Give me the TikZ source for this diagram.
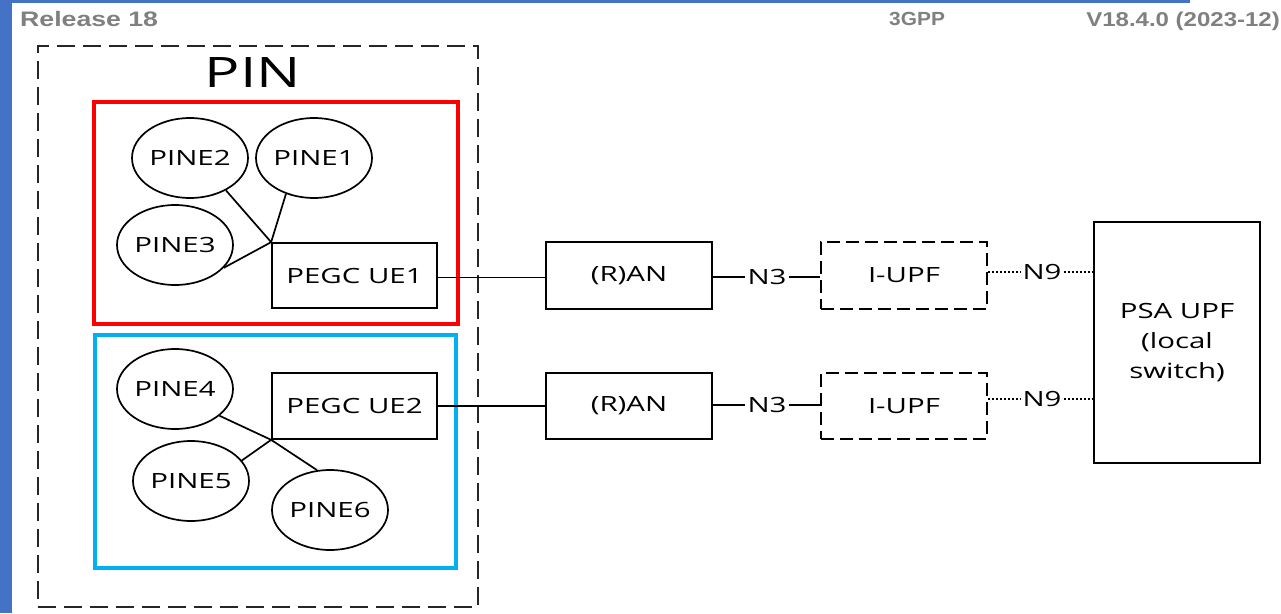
\documentclass[tikz,border=0pt]{standalone}
\usepackage{fontspec}
\usepackage{graphicx}
\setmainfont{Open Sans}[FakeStretch=1.4]
\newfontfamily\hdr{Liberation Sans}
\usetikzlibrary{shapes.geometric}
\definecolor{stripblue}{HTML}{4472C4}
\definecolor{boxblue}{HTML}{00B0F0}
\definecolor{hdrgrey}{HTML}{808080}
\tikzset{
  lbl/.style={font=\fontsize{21}{25}\selectfont, inner sep=0pt},
  hdrtxt/.style={text=hdrgrey, inner sep=0pt},
  pine/.style={ellipse, draw=black, line width=1.7pt, minimum width=116pt, minimum height=80pt, inner sep=0pt, font=\fontsize{21}{25}\selectfont},
  nfbox/.style={rectangle, draw=black, line width=1.7pt, minimum width=166pt, minimum height=66pt, inner sep=0pt, font=\fontsize{21}{25}\selectfont},
  dbox/.style={nfbox, dash pattern=on 13pt off 6pt},
  pinbox/.style={rectangle, draw=black!85, line width=1.8pt, dash pattern=on 18pt off 8pt, inner sep=0pt},
  grpbox/.style={rectangle, line width=4pt, inner sep=0pt},
  conn/.style={draw=black, line width=1.7pt},
  dotconn/.style={draw=black, line width=1.5pt, dash pattern=on 2pt off 2pt},
  tag/.style={font=\fontsize{21}{25}\selectfont, inner sep=2pt}
}
\begin{document}
\begin{tikzpicture}[x=1pt,y=-1pt]
\useasboundingbox (0,0) rectangle (1281,613);
\fill[white] (0,0) rectangle (1281,613);
\fill[stripblue] (0,0) rectangle (12,613);
\fill[stripblue] (12,0) rectangle (1190,3);
% header
\node[hdrtxt, anchor=base west] (rel) at (20,26) {\hdr\bfseries\fontsize{21}{25}\selectfont\scalebox{1.27}[1]{Release 18}};
\node[hdrtxt, anchor=base west] (gpp) at (889,25) {\hdr\bfseries\fontsize{19}{23}\selectfont\scalebox{1.1}[1]{3GPP}};
\node[hdrtxt, anchor=base east] (ver) at (1280,26) {\hdr\bfseries\fontsize{20}{24}\selectfont\scalebox{1.2}[1]{V18.4.0 (2023-12)}};
% PIN container
\node[pinbox, minimum width=440pt, minimum height=561pt] (pin) at (258,326.5) {};
\node[inner sep=0pt, font=\fontsize{42}{48}\selectfont] (pinlbl) at (253,73) {PIN};
% group boxes
\node[grpbox, draw=red, minimum width=364pt, minimum height=222pt] (red) at (276,213) {};
\node[grpbox, draw=boxblue, minimum width=361pt, minimum height=233pt] (blue) at (275.5,451.5) {};
% upper group
\node[pine] (p2) at (190,158) {PINE2};
\node[pine] (p1) at (314,158) {PINE1};
\node[pine] (p3) at (175,245) {PINE3};
\node[nfbox, minimum width=165pt, minimum height=65pt] (ue1) at (354.5,275.5) {PEGC UE1};
\draw[conn] (ue1.north west) -- (p2.-42);
\draw[conn] (ue1.north west) -- (p1.-128);
\draw[conn] (ue1.north west) -- (p3.-25);
% lower group
\node[pine] (p4) at (175,389) {PINE4};
\node[pine] (p5) at (191,481) {PINE5};
\node[pine] (p6) at (330,510) {PINE6};
\node[nfbox, minimum width=165pt, minimum height=66pt] (ue2) at (354.5,406) {PEGC UE2};
\draw[conn] (ue2.south west) -- (p4.-31);
\draw[conn] (ue2.south west) -- (p6.108);
\draw[conn] (ue2.south west) -- (p5.22);
% network row 1
\node[nfbox, minimum height=67pt] (ran1) at (629,275.5) {(R)AN};
\node[dbox, minimum height=67pt] (upf1) at (904,275.5) {I-UPF};
\node[tag] (n3a) at (767,277) {N3};
\node[tag] (n9a) at (1042,272) {N9};
% network row 2
\node[nfbox] (ran2) at (629,406) {(R)AN};
\node[dbox] (upf2) at (904,406) {I-UPF};
\node[tag] (n3b) at (767,405) {N3};
\node[tag] (n9b) at (1042,399) {N9};
% PSA UPF
\node[nfbox, minimum width=166pt, minimum height=241pt, align=center, font=\fontsize{21}{30}\selectfont] (psa) at (1177,342.5) {PSA UPF\\(local\\switch)};
% connectors
\draw[conn] ([yshift=-2pt]ue1.east) -- ([yshift=-2pt]ran1.west);
\draw[conn] (ran1.east |- n3a) -- (n3a.west);
\draw[conn] (n3a.east) -- (n3a -| upf1.west);
\draw[dotconn] (upf1.east |- n9a) -- (n9a.west);
\draw[dotconn] (n9a.east) -- (n9a -| psa.west);
\draw[conn] (ue2.east) -- (ran2.west);
\draw[conn] (ran2.east |- n3b) -- (n3b.west);
\draw[conn] (n3b.east) -- (n3b -| upf2.west);
\draw[dotconn] (upf2.east |- n9b) -- (n9b.west);
\draw[dotconn] (n9b.east) -- (n9b -| psa.west);
\end{tikzpicture}
\end{document}
